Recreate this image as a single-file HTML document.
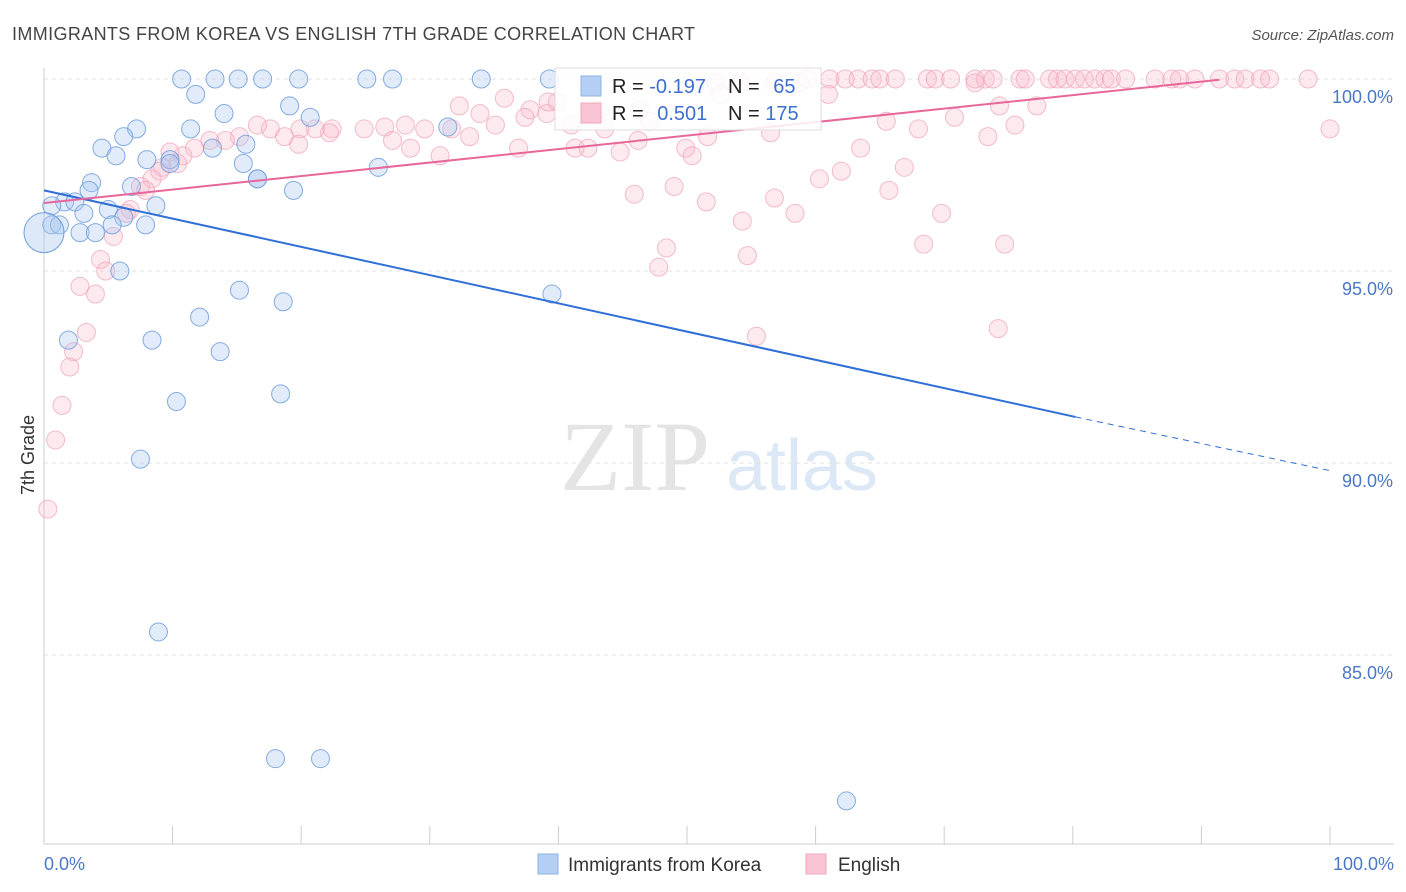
<!DOCTYPE html>
<html><head><meta charset="utf-8"><style>
body{margin:0;background:#fff;font-family:"Liberation Sans",sans-serif;}
#wrap{position:relative;width:1406px;height:892px;overflow:hidden;}
</style></head><body>
<div id="wrap">
<svg id="svg" width="1406" height="892" xmlns="http://www.w3.org/2000/svg">
<text x="12" y="40" font-size="18" fill="#444" textLength="683">IMMIGRANTS FROM KOREA VS ENGLISH 7TH GRADE CORRELATION CHART</text>
<text x="1394" y="40" font-size="15" fill="#555" text-anchor="end" font-style="italic">Source: ZipAtlas.com</text>
<text x="635" y="490" font-size="100" fill="#e4e4e4" text-anchor="middle" font-family="Liberation Serif,serif">ZIP</text>
<text x="802" y="490" font-size="72" fill="#dde8f6" text-anchor="middle">atlas</text>
<g id="grid"></g><g id="pts"></g><g id="lines"></g>
<text transform="translate(34,455) rotate(-90)" font-size="18" fill="#333" text-anchor="middle">7th Grade</text>
<text x="44" y="870" font-size="18" fill="#4a78c8">0.0%</text>
<text x="1394" y="870" font-size="18" fill="#4a78c8" text-anchor="end">100.0%</text>
<g>
<rect x="555" y="68" width="266" height="62" fill="#fff" fill-opacity="0.85" stroke="#ddd"/>
<rect x="581" y="76" width="20" height="20" fill="#b4cff3" stroke="#8fb3e6"/>
<rect x="581" y="103" width="20" height="20" fill="#f9c4d3" stroke="#f0a8bd"/>
<text x="612" y="93" font-size="20" fill="#222">R = <tspan fill="#3e6fd0">-0.197</tspan></text>
<text x="728" y="93" font-size="20" fill="#222">N = <tspan fill="#3e6fd0" dx="8">65</tspan></text>
<text x="612" y="120" font-size="20" fill="#222">R = <tspan fill="#3e6fd0" dx="8">0.501</tspan></text>
<text x="728" y="120" font-size="20" fill="#222">N = <tspan fill="#3e6fd0">175</tspan></text>
</g>
<g>
<rect x="538" y="854" width="20" height="20" fill="#b4cff3" stroke="#8fb3e6"/>
<text x="568" y="871" font-size="19" fill="#333">Immigrants from Korea</text>
<rect x="806" y="854" width="20" height="20" fill="#f9c4d3" stroke="#f0a8bd"/>
<text x="838" y="871" font-size="19" fill="#333">English</text>
</g>
</svg></div>
<script>
const yTicks=[100,95,90,85];
const yTickLabels=["100.0%","95.0%","90.0%","85.0%"];
const xTicks=[0,10,20,30,40,50,60,70,80,90,100];
const koreaX=[10.7,13.3,15.1,17.0,19.8,25.1,27.1,34.0,39.3,11.8,19.1,11.4,7.2,14.0,20.7,6.2,4.5,5.6,13.1,15.7,8.0,9.8,9.8,15.5,26.0,16.6,3.7,6.8,3.5,19.4,1.6,0.6,2.4,5.0,8.7,3.1,6.2,5.3,7.9,0.6,1.2,2.8,4.0,5.9,15.2,39.5,18.6,12.1,8.4,1.9,13.7,10.3,18.4,7.5,8.9,18.0,21.5,62.4,31.4,16.6];
const koreaY=[100,100,100,100,100,100,100,100,100,99.6,99.3,98.7,98.7,99.1,99.0,98.5,98.2,98.0,98.2,98.3,97.9,97.9,97.8,97.8,97.7,97.4,97.3,97.2,97.1,97.1,96.8,96.7,96.8,96.6,96.7,96.5,96.4,96.2,96.2,96.2,96.2,96.0,96.0,95.0,94.5,94.4,94.2,93.8,93.2,93.2,92.9,91.6,91.8,90.1,85.6,82.3,82.3,81.2,98.75,97.4];
const englishX=[59.4,61.1,62.3,63.3,64.4,65.0,66.2,68.7,69.3,70.5,72.4,73.2,73.8,75.9,76.3,78.2,78.8,79.4,80.2,80.9,81.7,82.5,83.0,84.1,86.4,87.7,88.3,89.5,91.4,92.6,93.4,94.6,95.3,98.3,52.2,54.1,56.8,58.8,72.4,
100,77.2,74.3,70.8,65.5,68.0,73.4,75.5,61.0,56.5,63.5,62.0,60.3,66.9,65.7,56.8,58.4,51.5,49.0,45.9,54.3,69.8,48.4,47.8,54.7,68.4,74.7,55.4,74.2,
32.3,35.8,37.8,39.9,33.9,37.4,39.1,43.2,46.3,28.1,29.6,26.5,24.9,22.4,22.2,21.1,19.9,18.7,17.6,16.6,15.2,14.1,12.9,11.7,10.8,9.8,9.2,8.4,7.5,10.4,19.8,27.1,28.5,30.8,33.1,31.7,35.1,36.9,41.3,42.3,44.8,46.2,43.6,49.9,50.4,51.6,47.1,52.6,39.2,41.0,
6.7,5.4,4.4,4.8,2.8,4.0,3.3,2.3,2.0,1.4,0.9,0.3,6.4,7.9,9.0];
const englishY=[100,100,100,100,100,100,100,100,100,100,100,100,100,100,100,100,100,100,100,100,100,100,100,100,100,100,100,100,100,100,100,100,100,100,99.9,99.9,99.9,99.9,99.9,
98.7,99.3,99.3,99.0,98.9,98.7,98.5,98.8,99.6,98.6,98.2,97.6,97.4,97.7,97.1,96.9,96.5,96.8,97.2,97.0,96.3,96.5,95.6,95.1,95.4,95.7,95.7,93.3,93.5,
99.3,99.5,99.2,99.4,99.1,99.0,99.1,99.2,99.2,98.8,98.7,98.75,98.7,98.7,98.6,98.7,98.7,98.5,98.7,98.8,98.5,98.4,98.4,98.2,98.0,98.1,97.7,97.4,97.2,97.8,98.3,98.4,98.2,98.0,98.5,98.7,98.8,98.2,98.2,98.2,98.1,98.4,98.7,98.2,98.0,98.5,98.9,99.6,99.4,98.8,
96.6,95.9,95.3,95.0,94.6,94.4,93.4,92.9,92.5,91.5,90.6,88.8,96.5,97.1,97.6];
const koreaTrend=[[0,97.1],[80.2,91.2],[100,89.8]];
const englishTrend=[[0,96.77],[91.4,99.98]];
const X=v=>44+v*12.86, Y=v=>79+(100-v)*38.4;
const NS="http://www.w3.org/2000/svg";
function mk(tag,attrs,parent){const e=document.createElementNS(NS,tag);for(const k in attrs)e.setAttribute(k,attrs[k]);parent.appendChild(e);return e;}
const grid=document.getElementById('grid'),pts=document.getElementById('pts'),lines=document.getElementById('lines');
yTicks.forEach((t,i)=>{
 const l=mk('line',{x1:44,x2:1394,y1:Y(t),y2:Y(t),stroke:'#e2e2e2','stroke-dasharray':'4,4'},grid);
 
 
 const tx=mk('text',{x:1393,y:Y(t)+24,'font-size':18,fill:'#4a78c8','text-anchor':'end'},grid);
 tx.textContent=yTickLabels[i];
 
 
});
const ax=mk('line',{x1:44,x2:1394,y1:844,y2:844,stroke:'#ccc'},grid);


const ay=mk('line',{x1:44,x2:44,y1:68,y2:844,stroke:'#ccc'},grid);


xTicks.forEach(t=>{
 const l=mk('line',{x1:X(t),x2:X(t),y1:826,y2:844,stroke:'#ccc'},grid);
 
 
});
englishX.forEach((x,i)=>{
 const c=mk('circle',{cx:X(x),cy:Y(englishY[i]),r:9,fill:'#f7b8ca','fill-opacity':0.3,stroke:'#ef9fb8','stroke-opacity':0.7},pts);
 
 
});
koreaX.forEach((x,i)=>{
 const c=mk('circle',{cx:X(x),cy:Y(koreaY[i]),r:9,fill:'#a9c7f0','fill-opacity':0.35,stroke:'#6f9fdc','stroke-opacity':0.85},pts);
 
 
});
const big=mk('circle',{cx:X(0),cy:Y(96.0),r:20,fill:'#a9c7f0','fill-opacity':0.4,stroke:'#6f9fdc'},pts);


const k1=mk('line',{x1:X(koreaTrend[0][0]),y1:Y(koreaTrend[0][1]),x2:X(koreaTrend[1][0]),y2:Y(koreaTrend[1][1]),stroke:'#2f6fd6','stroke-width':2},lines);


const k2=mk('line',{x1:X(koreaTrend[1][0]),y1:Y(koreaTrend[1][1]),x2:X(koreaTrend[2][0]),y2:Y(koreaTrend[2][1]),stroke:'#2f6fd6','stroke-width':1,'stroke-dasharray':'6,5'},lines);


const e1=mk('line',{x1:X(englishTrend[0][0]),y1:Y(englishTrend[0][1]),x2:X(englishTrend[1][0]),y2:Y(englishTrend[1][1]),stroke:'#e8679a','stroke-width':2},lines);


</script>
</body></html>
